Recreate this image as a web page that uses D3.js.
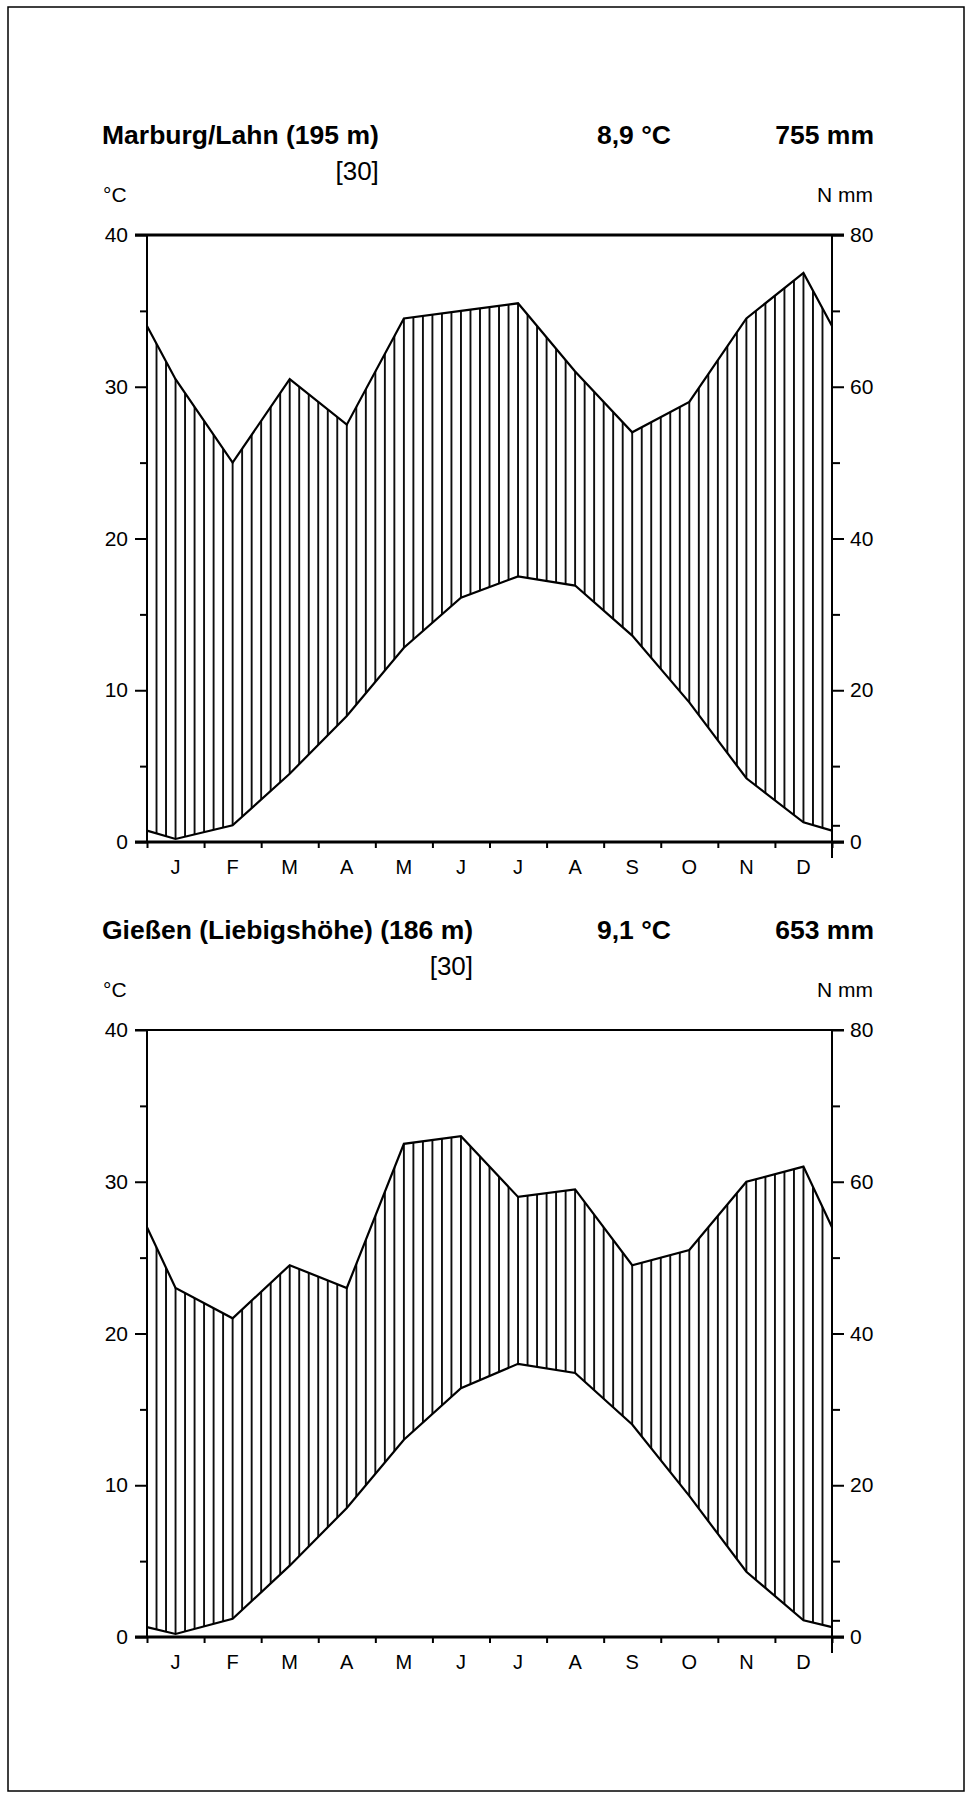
<!DOCTYPE html>
<html><head><meta charset="utf-8">
<script src="https://cdn.jsdelivr.net/npm/d3@7"></script>
<style>
body{margin:0;background:#fff}
svg{display:block}
text{font-family:"Liberation Sans",Arial,sans-serif;fill:#000}
</style>
</head><body>
<svg id="c" width="968" height="1798"></svg>
<script>
// ---------- data ----------
const months = ["J","F","M","A","M","J","J","A","S","O","N","D"];
const tempTicks = [0,10,20,30,40];
const tempMinor = [5,15,25,35];
const precTicks = [0,20,40,60,80];
const precMinor = [2.2,10,30,50,70];

const marburgName = "Marburg/Lahn (195 m)";
const marburgYears = "[30]";
const marburgMeanT = "8,9 °C";
const marburgSumP = "755 mm";
const marburgTemp = [0.2, 1.1, 4.5, 8.3, 12.8, 16.1, 17.5, 16.9, 13.6, 9.2, 4.2, 1.3];
const marburgPrec = [61, 50, 61, 55, 69, 70, 71, 62, 54, 58, 69, 75];

const giessenName = "Gießen (Liebigshöhe) (186 m)";
const giessenYears = "[30]";
const giessenMeanT = "9,1 °C";
const giessenSumP = "653 mm";
const giessenTemp = [0.2, 1.2, 4.7, 8.5, 13.0, 16.4, 18.0, 17.4, 14.0, 9.3, 4.3, 1.1];
const giessenPrec = [46, 42, 49, 46, 65, 66, 58, 59, 49, 51, 60, 62];

// ---------- drawing ----------
const svg = d3.select("#c");
const defs = svg.append("defs");
svg.append("rect").attr("x",8).attr("y",7).attr("width",956).attr("height",1784)
  .attr("fill","none").attr("stroke","#000").attr("stroke-width",1.5);

const X0 = 147, X1 = 832, H = 607;
const x = d3.scaleLinear().domain([0,12]).range([X0,X1]);
const FONT = '"Liberation Sans",Arial,sans-serif';

function draw(top, name, years, meanT, sumP, temp, prec, topW, id){
  const g = svg.append("g");
  const yT = d3.scaleLinear([0,40],[top+H, top]);
  const yP = d3.scaleLinear([0,80],[top+H, top]);
  const n = temp.length;
  const ext = arr => [{m:0, v:(arr[n-1]+arr[0])/2},
                      ...arr.map((v,i)=>({m:i+0.5, v})),
                      {m:12, v:(arr[n-1]+arr[0])/2}];
  const tE = ext(temp), pE = ext(prec);
  const both = tE.map((d,i)=>({m:d.m, t:d.v, p:pE[i].v}));

  // hatch pattern
  const w = (x(1)-x(0))/6;
  const pat = defs.append("pattern").attr("id",id).attr("patternUnits","userSpaceOnUse")
    .attr("x",X0-w/2).attr("y",0).attr("width",w).attr("height",10);
  pat.append("line").attr("x1",w/2).attr("x2",w/2).attr("y1",-1).attr("y2",11)
    .attr("stroke","#000").attr("stroke-width",1.8);
  g.append("path").datum(both)
    .attr("d", d3.area().x(d=>x(d.m)).y0(d=>yT(d.t)).y1(d=>yP(d.p)))
    .attr("fill",`url(#${id})`);

  // curves
  g.append("path").datum(tE).attr("d", d3.line().x(d=>x(d.m)).y(d=>yT(d.v)))
    .attr("fill","none").attr("stroke","#000").attr("stroke-width",2.2).attr("stroke-linejoin","miter");
  g.append("path").datum(pE).attr("d", d3.line().x(d=>x(d.m)).y(d=>yP(d.v)))
    .attr("fill","none").attr("stroke","#000").attr("stroke-width",2.2).attr("stroke-linejoin","miter");

  // frame lines
  g.append("line").attr("x1",X0).attr("x2",X0).attr("y1",top).attr("y2",top+H)
    .attr("stroke","#000").attr("stroke-width",2);
  g.append("line").attr("x1",X1).attr("x2",X1).attr("y1",top).attr("y2",top+H+16)
    .attr("stroke","#000").attr("stroke-width",2);
  g.append("line").attr("x1",X0-12).attr("x2",X1+12).attr("y1",top).attr("y2",top)
    .attr("stroke","#000").attr("stroke-width",topW);
  g.append("line").attr("x1",X0-12).attr("x2",X1+12).attr("y1",top+H).attr("y2",top+H)
    .attr("stroke","#000").attr("stroke-width",2.8);

  const style = a => { a.attr("font-size",21).attr("font-family",FONT);
    a.select(".domain").remove();
    a.selectAll(".tick line").attr("stroke","#000").attr("stroke-width",2);
    a.selectAll(".tick text").attr("fill","#000"); };

  // left axis
  g.append("g").attr("transform",`translate(${X0},0)`)
    .call(d3.axisLeft(yT).tickValues(tempTicks).tickSize(12).tickPadding(7).tickFormat(d3.format("d")))
    .call(style);
  g.append("g").attr("transform",`translate(${X0},0)`)
    .call(d3.axisLeft(yT).tickValues(tempMinor).tickSize(7).tickFormat(""))
    .call(style);
  // right axis
  g.append("g").attr("transform",`translate(${X1},0)`)
    .call(d3.axisRight(yP).tickValues(precTicks).tickSize(12).tickPadding(6).tickFormat(d3.format("d")))
    .call(style);
  g.append("g").attr("transform",`translate(${X1},0)`)
    .call(d3.axisRight(yP).tickValues(precMinor).tickSize(8).tickFormat(""))
    .call(style);
  // bottom month ticks
  g.append("g").attr("transform",`translate(0,${top+H})`)
    .call(d3.axisBottom(x).tickValues(d3.range(0,13)).tickSize(6).tickFormat(""))
    .call(style);
  g.selectAll("text.month").data(months).join("text").attr("class","month")
    .attr("x",(d,i)=>x(i+0.5)).attr("y",top+H+32).attr("text-anchor","middle")
    .attr("font-size",20).text(d=>d);

  // headers
  const t = g.append("text").attr("x",102).attr("y",top-91).attr("font-size",26.5)
    .attr("font-weight","bold").text(name);
  const bb = t.node().getBBox();
  g.append("text").attr("x",bb.x+bb.width).attr("y",top-55).attr("text-anchor","end")
    .attr("font-size",26).text(years);
  g.append("text").attr("x",597).attr("y",top-91).attr("font-size",26.5)
    .attr("font-weight","bold").text(meanT);
  g.append("text").attr("x",874).attr("y",top-91).attr("font-size",26.5)
    .attr("font-weight","bold").attr("text-anchor","end").text(sumP);
  g.append("text").attr("x",103).attr("y",top-33.5).attr("font-size",21).text("°C");
  g.append("text").attr("x",873).attr("y",top-33.5).attr("font-size",21)
    .attr("text-anchor","end").text("N mm");
}

draw(235, marburgName, marburgYears, marburgMeanT, marburgSumP, marburgTemp, marburgPrec, 3, "hatch1");
draw(1030, giessenName, giessenYears, giessenMeanT, giessenSumP, giessenTemp, giessenPrec, 2, "hatch2");
</script>
</body></html>
